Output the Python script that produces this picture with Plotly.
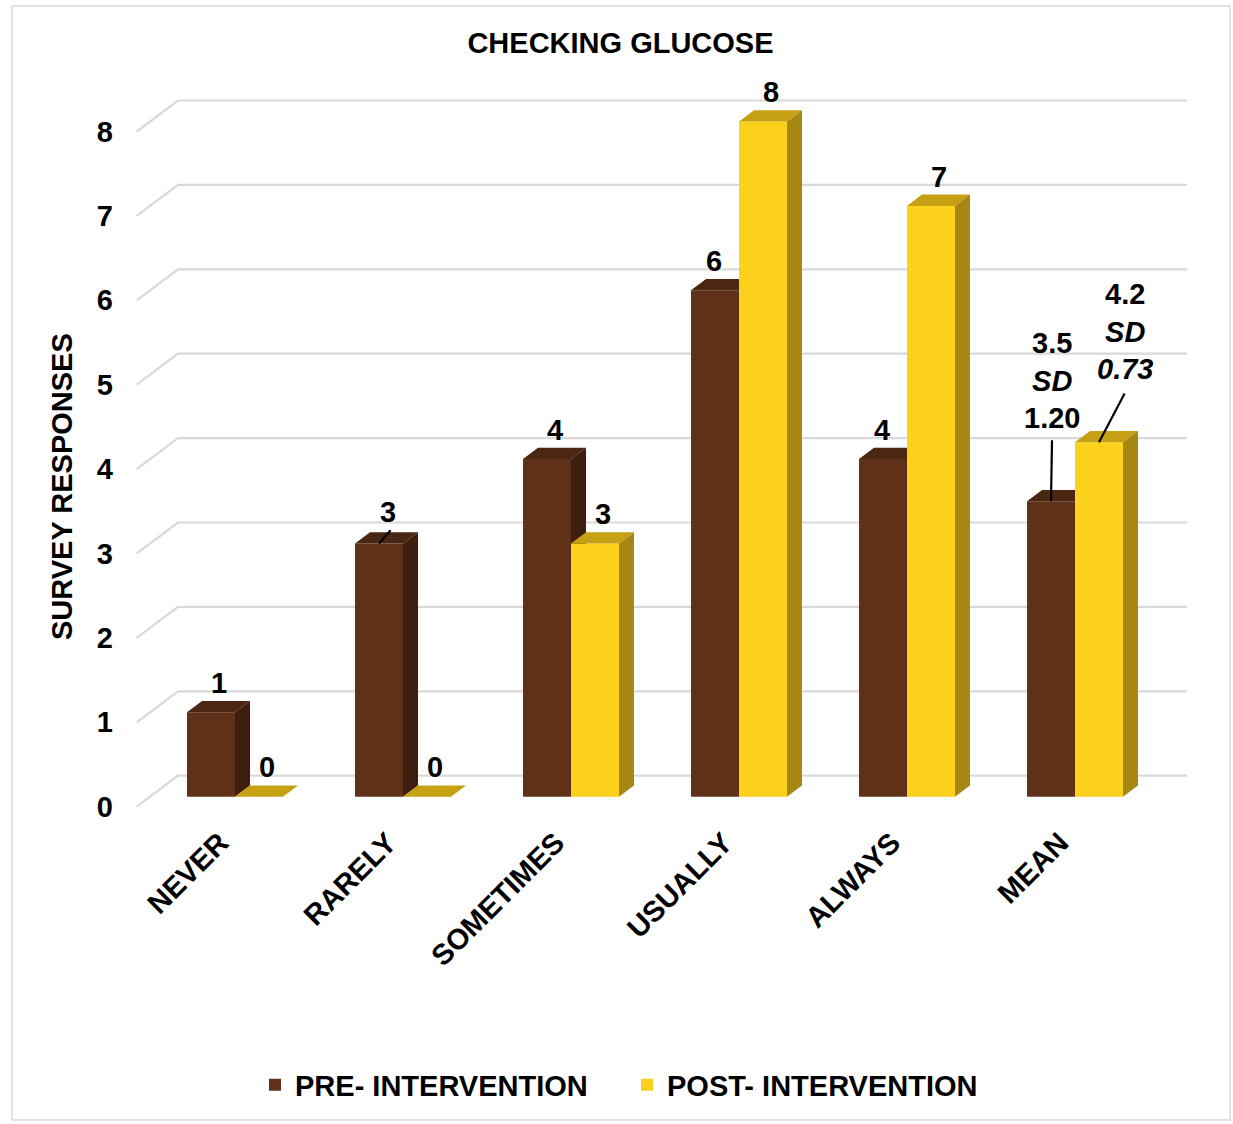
import plotly.graph_objects as go

# ---------------- data ----------------
categories = ["NEVER", "RARELY", "SOMETIMES", "USUALLY", "ALWAYS", "MEAN"]
pre_values = [1, 3, 4, 6, 4, 3.5]
post_values = [0, 0, 3, 8, 7, 4.2]
pre_labels = ["1", "3", "4", "6", "4", "3.5<br><i>SD</i><br>1.20"]
post_labels = ["0", "0", "3", "8", "7", "4.2<br><i>SD<br>0.73</i>"]
y_ticks = [0, 1, 2, 3, 4, 5, 6, 7, 8]
series_names = ["PRE- INTERVENTION", "POST- INTERVENTION"]
chart_title = "CHECKING GLUCOSE"
y_title = "SURVEY RESPONSES"

# ---------------- styling / geometry ----------------
W, H = 1233, 1124
L, R, T, B = 130, 1200, 60, 815          # plot area in pixels
CAT_PX = 168.0                            # pixels per category
UNIT_PX = 84.4                            # pixels per value unit
CAT0_PX = 235.0                           # pixel x of first category centre
ZERO_PX = 796.7                           # pixel y of value 0 (bar plane)

def px_to_x(px):
    return (px - CAT0_PX) / CAT_PX

def px_to_y(py):
    return (ZERO_PX - py) / UNIT_PX

BAR_W = 48 / CAT_PX
DX = 15 / CAT_PX
DY = 11.3 / UNIT_PX
GRID_FRONT_X = px_to_x(136.7)
GRID_BACK_X = px_to_x(178)
GRID_END_X = px_to_x(1187)
GRID_FRONT_DY = -10 / UNIT_PX
GRID_BACK_DY = 21 / UNIT_PX

FONT = "Liberation Sans, Arial, sans-serif"
FS = 29
colors = {
    "pre": {"front": "#5F3119", "top": "#4B2613", "side": "#3E1F0F"},
    "post": {"front": "#FCD11C", "top": "#C6A114", "side": "#A58712"},
}
# labels with leader lines: (line end offset px right/up, label centre offset px right/up)
leaders = {
    ("pre", 1): ((11.6, 13.3), (9, 32)),
    ("pre", 5): ((1, 61), (1, 121)),
    ("post", 5): ((25.6, 48.7), (26, 111)),
}
# horizontal nudges for labels crowded by a taller neighbour
label_xshift = {("pre", 3): -9, ("pre", 4): -9}

fig = go.Figure()

series = [("pre", pre_values, pre_labels, -BAR_W, "x", "y"),
          ("post", post_values, post_labels, 0.0, "x2", "y2")]

annotations = []
shapes = []
for (key, vals, labels, off, xa, ya), name in zip(series, series_names):
    c = colors[key]
    xs = list(range(len(categories)))
    fig.add_trace(go.Bar(
        x=xs, y=vals, offset=off, width=BAR_W, name=name,
        marker=dict(color=c["front"], line=dict(width=0)),
        xaxis=xa, yaxis=ya, hoverinfo="skip",
    ))
    top_x, top_y, side_x, side_y = [], [], [], []
    for i, v in enumerate(vals):
        x0 = i + off
        x1 = x0 + BAR_W
        top_x += [x0, x1, x1 + DX, x0 + DX, x0, None]
        top_y += [v, v, v + DY, v + DY, v, None]
        side_x += [x1, x1, x1 + DX, x1 + DX, x1, None]
        side_y += [0, v, v + DY, DY, 0, None]
    for px_, py_, col in [(top_x, top_y, c["top"]), (side_x, side_y, c["side"])]:
        fig.add_trace(go.Scatter(
            x=px_, y=py_, mode="lines", fill="toself", fillcolor=col,
            line=dict(width=0, color=col), showlegend=False,
            xaxis=xa, yaxis=ya, hoverinfo="skip",
        ))
    for i, (v, lab) in enumerate(zip(vals, labels)):
        cx = i + off + BAR_W / 2
        font = dict(family=FONT, size=FS, color="black", weight="bold")
        if (key, i) in leaders:
            (lx, ly), (tx, ty) = leaders[(key, i)]
            shapes.append(dict(type="line", xref="x", yref="y",
                               xsizemode="pixel", ysizemode="pixel",
                               xanchor=cx, yanchor=v, x0=0, y0=0, x1=lx, y1=ly,
                               line=dict(color="black", width=2.2)))
            annotations.append(dict(
                x=cx, y=v, xref="x", yref="y", text=lab, showarrow=False,
                xanchor="center", yanchor="middle", xshift=tx, yshift=ty, font=font,
            ))
        else:
            annotations.append(dict(
                x=cx + DX / 2, y=v + DY, xref="x", yref="y", text=lab,
                showarrow=False, yanchor="bottom", yshift=0,
                xshift=label_xshift.get((key, i), 0), font=font,
            ))

# gridlines in perspective
for t in y_ticks:
    path = (f"M{GRID_FRONT_X},{t + GRID_FRONT_DY} L{GRID_BACK_X},{t + GRID_BACK_DY} "
            f"L{GRID_END_X},{t + GRID_BACK_DY}")
    shapes.append(dict(type="path", path=path, xref="x", yref="y", layer="below",
                       line=dict(color="#D9D9D9", width=2.2)))

# outer border
def pxx(p):
    return (p - L) / (R - L)

def pxy(p):
    return (B - p) / (B - T)

shapes.append(dict(type="rect", xref="paper", yref="paper",
                   x0=pxx(12), x1=pxx(1230), y0=pxy(1120), y1=pxy(6),
                   line=dict(color="#D9D9D9", width=1.5), layer="below"))

annotations.append(dict(
    text=y_title, textangle=-90, xref="paper", yref="paper",
    x=pxx(62), y=pxy(487), showarrow=False, xanchor="center", yanchor="middle",
    font=dict(family=FONT, size=FS, color="black", weight="bold"),
))

xrange = [px_to_x(L), px_to_x(R)]
yrange = [px_to_y(B), px_to_y(T)]

fig.update_layout(
    width=W, height=H,
    margin=dict(l=L, r=W - R, t=T, b=H - B),
    paper_bgcolor="white", plot_bgcolor="rgba(0,0,0,0)",
    title=dict(text=chart_title, x=620.5 / W, y=1 - 43 / H, xref="container",
               yref="container", xanchor="center", yanchor="middle",
               font=dict(family=FONT, size=FS, color="black", weight="bold")),
    xaxis=dict(range=xrange, tickvals=list(range(len(categories))), ticktext=categories,
               tickangle=-45, showgrid=False, zeroline=False, showline=False, ticks="",
               ticklabelshift=-15, ticklabelstandoff=4,
               tickfont=dict(family=FONT, size=FS, color="black", weight="bold")),
    yaxis=dict(range=yrange, tickvals=y_ticks, showgrid=False, zeroline=False,
               showline=False, ticks="", ticklabelshift=10, ticklabelstandoff=16,
               tickfont=dict(family=FONT, size=FS, color="black", weight="bold")),
    xaxis2=dict(range=xrange, overlaying="x", visible=False),
    yaxis2=dict(range=yrange, overlaying="y", visible=False),
    barmode="overlay",
    showlegend=True,
    legend=dict(orientation="h", x=pxx(627), y=pxy(1085), xanchor="center",
                yanchor="middle", entrywidth=327,
                font=dict(family=FONT, size=FS, color="black", weight="bold")),
    shapes=shapes, annotations=annotations,
)

fig.write_html("out.html")
